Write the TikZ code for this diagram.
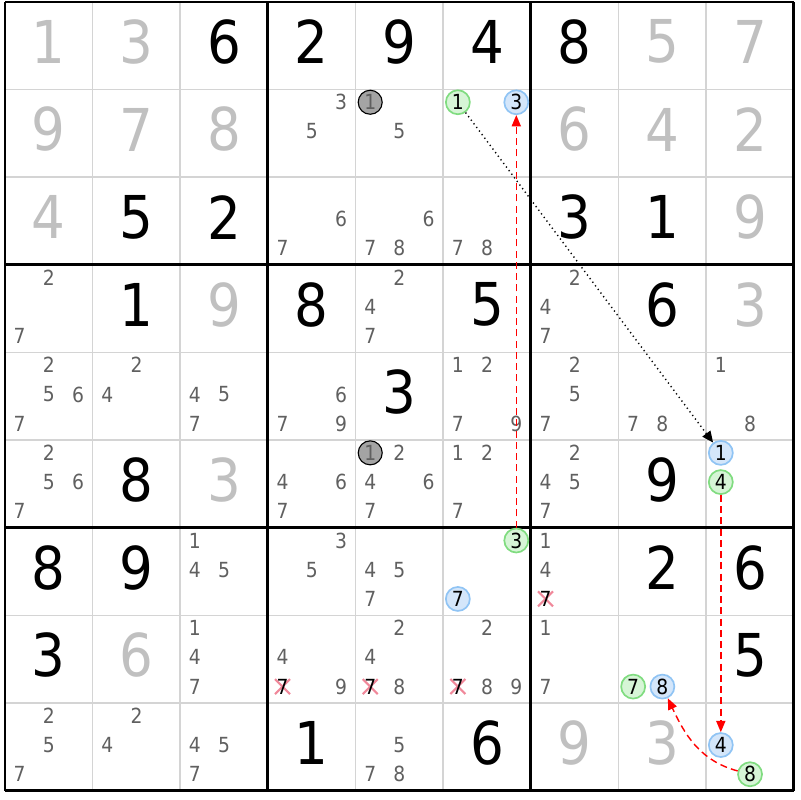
\documentclass[tikz,border=0pt]{standalone}
\usepackage{fontspec}
\setmainfont{DejaVu Sans Condensed}
\usetikzlibrary{positioning,arrows.meta}

\definecolor{gridgray}{HTML}{D4D4D4}
\definecolor{solvedgray}{HTML}{C0C0C0}
\definecolor{candgray}{HTML}{606060}
\definecolor{ongreen}{HTML}{80DC80}
\definecolor{ongreenfill}{HTML}{D6F5D6}
\definecolor{offblue}{HTML}{90C4F4}
\definecolor{offbluefill}{HTML}{D4E6FA}
\definecolor{deadgray}{HTML}{A4A4A4}
\definecolor{crossred}{HTML}{F0889A}

% sizes in pixels, measured from the top left corner
\newcommand{\cellw}{87.65}
\newcommand{\setcell}[2]{%
  \pgfmathsetmacro{\cellx}{5+(#2-0.5)*\cellw}%
  \pgfmathsetmacro{\celly}{-(2+(#1-0.5)*\cellw)+4}}
\newcommand{\setcand}[3]{%
  \pgfmathsetmacro{\candx}{5+(#2-1)*\cellw+(2*mod(#3-1,3)+1)*\cellw/6}%
  \pgfmathsetmacro{\candy}{-(2+(#1-1)*\cellw+(2*floor((#3-1)/3)+1)*\cellw/6)+2}}

\begin{document}
\begin{tikzpicture}[x=0.025cm, y=0.025cm,
    given/.style={font=\fontsize{42}{42}\selectfont, inner sep=0pt},
    solved/.style={given, text=solvedgray},
    cand/.style={font=\fontsize{14.8}{14.8}\selectfont, inner sep=0pt, text=candgray},
    oncand/.style={cand, circle, text=black, draw=ongreen, fill=ongreenfill, line width=1.2pt, minimum size=0.6cm},
    offcand/.style={oncand, draw=offblue, fill=offbluefill},
    deadcand/.style={oncand, draw=black, fill=deadgray, text=candgray, line width=0.8pt},
    thinline/.style={gridgray, line width=1.2pt},
    boxline/.style={black, line width=2.1pt},
    chain/.style={black, line width=1pt, dash pattern=on 0.9pt off 2.3pt, -{Triangle[length=8pt, width=7pt]}},
    link/.style={red, line width=1pt, dash pattern=on 5pt off 3pt, -{Triangle[length=8pt, width=6.5pt]}},
    ]
    \useasboundingbox (0,0) rectangle (800,-800);

    %Grid
    \foreach \i in {1,2,4,5,7,8}{
        \draw[thinline] ({5+\i*\cellw},-2) -- ({5+\i*\cellw},{-(2+9*\cellw)});
        \draw[thinline] (5,{-(2+\i*\cellw)}) -- ({5+9*\cellw},{-(2+\i*\cellw)});
    }
    \foreach \i in {0,3,6,9}{
        \draw[boxline] ({5+\i*\cellw},-2) -- ({5+\i*\cellw},{-(2+9*\cellw)});
        \draw[boxline] (5,{-(2+\i*\cellw)}) -- ({5+9*\cellw},{-(2+\i*\cellw)});
    }

    %Givens
    \foreach \r/\c/\d in {1/3/6, 1/4/2, 1/5/9, 1/6/4, 1/7/8, 3/2/5, 3/3/2, 3/7/3, 3/8/1,
        4/2/1, 4/4/8, 4/6/5, 4/8/6, 5/5/3, 6/2/8, 6/8/9, 7/1/8, 7/2/9, 7/8/2, 7/9/6,
        8/1/3, 8/9/5, 9/4/1, 9/6/6}{
        \setcell{\r}{\c}
        \node[given] (n\r\c) at (\cellx,\celly) {\d};
    }
    \foreach \r/\c/\d in {1/1/1, 1/2/3, 1/8/5, 1/9/7, 2/1/9, 2/2/7, 2/3/8, 2/7/6, 2/8/4, 2/9/2,
        3/1/4, 3/9/9, 4/3/9, 4/9/3, 6/3/3, 8/2/6, 9/7/9, 9/8/3}{
        \setcell{\r}{\c}
        \node[solved] (n\r\c) at (\cellx,\celly) {\d};
    }

    %Candidates
    \foreach \r/\c/\ks in {2/4/{3,5}, 2/5/{5}, 3/4/{6,7}, 3/5/{6,7,8}, 3/6/{7,8},
        4/1/{2,7}, 4/5/{2,4,7}, 4/7/{2,4,7},
        5/1/{2,5,6,7}, 5/2/{2,4}, 5/3/{4,5,7}, 5/4/{6,7,9}, 5/6/{1,2,7,9}, 5/7/{2,5,7}, 5/8/{7,8}, 5/9/{1,8},
        6/1/{2,5,6,7}, 6/4/{4,6,7}, 6/5/{2,4,6,7}, 6/6/{1,2,7}, 6/7/{2,4,5,7},
        7/3/{1,4,5}, 7/4/{3,5}, 7/5/{4,5,7}, 7/7/{1,4},
        8/3/{1,4,7}, 8/4/{4,9}, 8/5/{2,4,8}, 8/6/{2,8,9}, 8/7/{1,7},
        9/1/{2,5,7}, 9/2/{2,4}, 9/3/{4,5,7}, 9/5/{5,7,8}}{
        \foreach \k in \ks {
            \setcand{\r}{\c}{\k}
            \node[cand] (c\r\c\k) at (\candx,\candy) {\k};
        }
    }

    %Eliminated
    \foreach \r/\c/\k in {7/7/7, 8/4/7, 8/5/7, 8/6/7}{
        \setcand{\r}{\c}{\k}
        \draw[crossred, line width=1.5pt] (\candx-7.5,\candy-7.5) -- (\candx+7.5,\candy+7.5)
            (\candx-7.5,\candy+7.5) -- (\candx+7.5,\candy-7.5);
        \node[cand, text=black] (x\r\c\k) at (\candx,\candy) {\k};
    }

    %Marked candidates
    \foreach \r/\c/\k in {2/6/1, 7/6/3, 6/9/4, 8/8/7, 9/9/8}{
        \setcand{\r}{\c}{\k}
        \node[oncand] (on\r\c\k) at (\candx,\candy) {\k};
    }
    \foreach \r/\c/\k in {2/6/3, 6/9/1, 7/6/7, 8/8/8, 9/9/4}{
        \setcand{\r}{\c}{\k}
        \node[offcand] (off\r\c\k) at (\candx,\candy) {\k};
    }
    \foreach \r/\c/\k in {2/5/1, 6/5/1}{
        \setcand{\r}{\c}{\k}
        \node[deadcand] (dead\r\c\k) at (\candx,\candy) {\k};
    }

    %Lines
    \draw[chain] (on261) -- (off691);
    \draw[link] (on763) -- (off263);
    \draw[link] (on694) -- (off994);
    \draw[link] (on998) to [out=165,in=-65] (off888);

\end{tikzpicture}
\end{document}
